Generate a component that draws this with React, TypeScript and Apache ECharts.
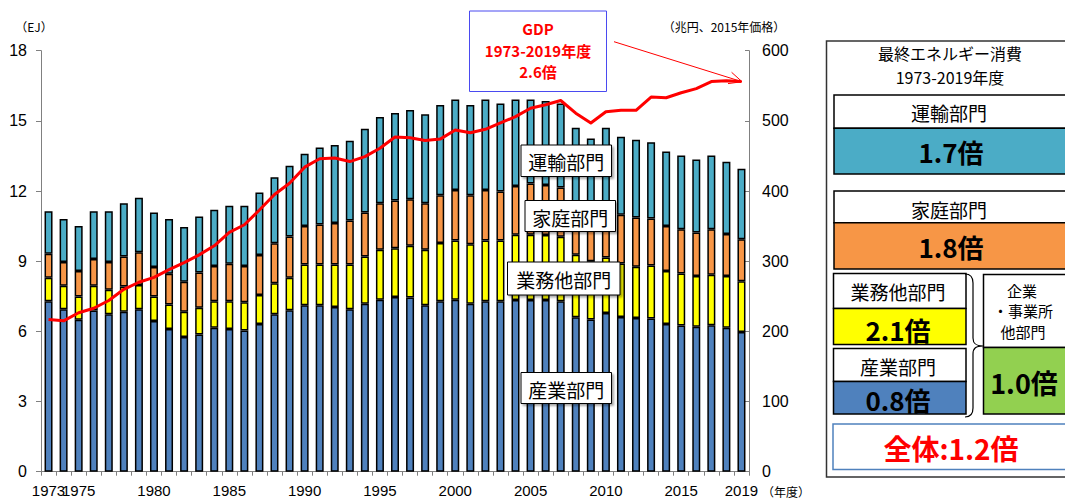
import React, { useEffect, useRef } from "react";
import * as echarts from "echarts";

// ---- data ----
const years: string[] = Array.from({ length: 47 }, (_, i) => String(1973 + i));
const xTickYears = ["1973", "1975", "1980", "1985", "1990", "1995", "2000", "2005", "2010", "2015", "2019"];

// EJ
const industry = [
  7.29, 6.95, 6.5, 6.89, 6.73, 6.84, 6.95, 6.44, 6.1, 5.76, 5.87, 6.15, 6.1, 6.04, 6.32, 6.73, 6.9,
  7.12, 7.12, 7.04, 6.95, 7.18, 7.35, 7.47, 7.45, 7.12, 7.29, 7.35, 7.18, 7.29, 7.29, 7.34, 7.34,
  7.34, 7.29, 6.6, 6.51, 6.78, 6.61, 6.57, 6.55, 6.32, 6.25, 6.2, 6.26, 6.15, 5.97,
];
const business = [
  1.0, 1.0, 0.99, 1.06, 1.05, 1.08, 1.03, 1.05, 1.05, 1.08, 1.14, 1.14, 1.19, 1.2, 1.23, 1.33, 1.39,
  1.74, 1.74, 1.82, 1.91, 2.02, 2.14, 2.08, 2.21, 2.37, 2.49, 2.54, 2.54, 2.6, 2.6, 2.79, 2.79,
  2.78, 2.76, 2.68, 2.49, 2.38, 2.29, 2.19, 2.27, 2.26, 2.22, 2.17, 2.16, 2.22, 2.17,
];
const household = [
  1.03, 1.02, 1.09, 1.14, 1.19, 1.28, 1.4, 1.26, 1.31, 1.28, 1.51, 1.51, 1.6, 1.56, 1.71, 1.71, 1.77,
  1.65, 1.71, 1.77, 1.88, 1.88, 1.99, 2.05, 1.99, 1.99, 2.04, 2.15, 2.1, 2.15, 2.09, 2.08, 2.19,
  2.14, 2.1, 2.02, 1.95, 2.09, 2.09, 2.11, 2.01, 1.92, 1.9, 1.86, 1.95, 1.79, 1.8,
];
const transport = [
  1.82, 1.83, 1.93, 2.05, 2.17, 2.28, 2.33, 2.33, 2.34, 2.34, 2.39, 2.4, 2.48, 2.57, 2.68, 2.82, 3.02,
  3.08, 3.29, 3.34, 3.41, 3.58, 3.69, 3.74, 3.81, 3.8, 3.86, 3.87, 3.86, 3.87, 3.76, 3.7, 3.59,
  3.59, 3.59, 3.41, 3.3, 3.46, 3.33, 3.32, 3.26, 3.19, 3.15, 3.12, 3.15, 3.09, 3.01,
];
// 兆円 (2015年価格)
const gdp = [
  217, 215, 226.6, 233, 244, 260, 270, 277, 288, 298, 309, 322, 341, 352, 373, 395, 411,
  434, 446, 447, 442, 449, 461, 477, 476, 472, 474, 487, 483, 488, 497, 506, 518,
  523, 529, 511, 497, 513, 515, 515, 534, 533, 540, 546, 556, 557, 556,
];

const C_IND = "#4f81bd";
const C_BUS = "#ffff00";
const C_HOU = "#f79646";
const C_TRA = "#4bacc6";
const C_GRN = "#92d050";
const JP = "'Noto Sans CJK JP', sans-serif";
const NUM = "'Liberation Sans', Arial, sans-serif";

echarts.graphic.registerShape(
  "brace",
  echarts.graphic.extendPath(
    "M 0 0 C 6 0 8 3 8 9 L 8 64 C 8 70 11 72 18 72 C 11 72 8 74 8 80 L 8 134 C 8 140 6 143 0 143",
    {}
  )
);

function txt(text: string, x: number, y: number, fontSize: number, opts: any = {}) {
  return {
    type: "text",
    z: 110,
    style: {
      text,
      x,
      y,
      align: "center",
      verticalAlign: "middle",
      fontSize,
      fontFamily: opts.fontFamily || JP,
      fontWeight: opts.fontWeight || "normal",
      fill: opts.fill || "#000",
    },
  };
}

function box(x: number, y: number, w: number, h: number, fill: string, stroke = "#000", lw = 1.5, extra: any = {}) {
  return {
    type: "rect",
    z: 105,
    shape: { x, y, width: w, height: h },
    style: { fill, stroke, lineWidth: lw, ...extra },
  };
}

function plotLabel(text: string, x: number, y: number, w: number, h: number) {
  return [
    box(x, y, w, h, "#fff", "#000", 1, {
      shadowColor: "rgba(0,0,0,0.35)",
      shadowBlur: 2,
      shadowOffsetX: 2,
      shadowOffsetY: 2,
    }),
    txt(text, x + w / 2, y + h / 2 + 1, 19),
  ];
}

export default function App() {
  const ref = useRef<HTMLDivElement>(null);
  useEffect(() => {
    if (!ref.current) return;
    const chart = echarts.init(ref.current, undefined, { renderer: "svg" });
    const barCommon = {
      type: "bar",
      stack: "total",
      barWidth: 8,
      z: 2,
    };
    const xLabelBase = {
      fontSize: 15,
      color: "#000",
      margin: 11,
      fontFamily: NUM,
      hideOverlap: false,
    };
    const option: any = {
      animation: false,
      backgroundColor: "#fff",
      grid: { left: 41, right: 316, top: 50.7, bottom: 27.3, containLabel: false },
      xAxis: [
        {
          type: "category",
          data: years,
          boundaryGap: true,
          axisLine: { lineStyle: { color: "#808080", width: 1 } },
          axisTick: { show: true, interval: 0, length: 4, lineStyle: { color: "#808080" } },
          axisLabel: {
            ...xLabelBase,
            interval: (i: number, v: string) => v !== xTickYears[0] && xTickYears.includes(v),
          },
        },
        {
          // separate axis only for the first year label, so that it is not dropped for overlapping "1975"
          type: "category",
          data: years,
          position: "bottom",
          boundaryGap: true,
          axisLine: { show: false },
          axisTick: { show: false },
          splitLine: { show: false },
          axisLabel: {
            ...xLabelBase,
            interval: (i: number, v: string) => v === xTickYears[0],
          },
        },
      ],
      yAxis: [
        {
          type: "value",
          min: 0,
          max: 18,
          interval: 3,
          position: "left",
          axisLine: { show: true, lineStyle: { color: "#808080" } },
          axisTick: { show: true, length: 5, lineStyle: { color: "#808080" } },
          splitLine: { show: false },
          axisLabel: { fontSize: 16, color: "#000", margin: 14, fontFamily: NUM },
        },
        {
          type: "value",
          min: 0,
          max: 600,
          interval: 100,
          position: "right",
          axisLine: { show: true, lineStyle: { color: "#808080" } },
          axisTick: { show: true, inside: true, length: 4, lineStyle: { color: "#808080" } },
          splitLine: { show: false },
          axisLabel: { fontSize: 16, color: "#000", margin: 13, fontFamily: NUM },
        },
      ],
      series: [
        { ...barCommon, name: "産業部門", data: industry, itemStyle: { color: C_IND, borderColor: "#000", borderWidth: 1.5 } },
        { ...barCommon, name: "業務他部門", data: business, itemStyle: { color: C_BUS, borderColor: "#000", borderWidth: 1.5 } },
        { ...barCommon, name: "家庭部門", data: household, itemStyle: { color: C_HOU, borderColor: "#000", borderWidth: 1.5 } },
        { ...barCommon, name: "運輸部門", data: transport, itemStyle: { color: C_TRA, borderColor: "#000", borderWidth: 1.5 } },
        {
          type: "line",
          name: "GDP",
          yAxisIndex: 1,
          data: gdp,
          symbol: "none",
          z: 5,
          lineStyle: { color: "#ff0000", width: 3, join: "round" },
        },
      ],
      graphic: [
        // axis unit labels
        txt("（EJ）", 34, 26, 12),
        txt("（兆円、2015年価格）", 724, 26, 12),
        txt("（年度）", 786, 491, 12),
        // GDP box
        box(469.5, 11, 137, 80.5, "#fff", "#4a4af0", 1),
        txt("GDP", 538, 28.5, 15, { fontWeight: "bold", fill: "#ff0000" }),
        txt("1973-2019年度", 538, 50, 15, { fontWeight: "bold", fill: "#ff0000" }),
        txt("2.6倍", 538, 71, 15, { fontWeight: "bold", fill: "#ff0000" }),
        {
          type: "line",
          z: 110,
          shape: { x1: 614, y1: 41.7, x2: 742, y2: 81.7 },
          style: { stroke: "#ff0000", lineWidth: 1 },
        },
        {
          type: "polyline",
          z: 110,
          shape: { points: [[731.6, 72.3], [742, 81.7], [728, 83.6]] },
          style: { stroke: "#ff0000", lineWidth: 1, fill: "none" },
        },
        // in-plot labels
        ...plotLabel("運輸部門", 521, 145, 90.5, 31.5),
        ...plotLabel("家庭部門", 525, 200.5, 90.5, 31),
        ...plotLabel("業務他部門", 507.5, 262, 112.5, 33),
        ...plotLabel("産業部門", 521, 372.5, 90.5, 31),
        // right panel
        box(826.5, 41, 260, 436, "#fff", "#333", 1.5),
        txt("最終エネルギー消費", 950, 53.3, 16),
        txt("1973-2019年度", 950, 76.7, 16),
        box(834, 95, 250, 33.3, "#fff"),
        box(834, 128.3, 250, 45.7, C_TRA),
        txt("運輸部門", 949, 112, 19),
        txt("1.7倍", 951, 151.5, 26, { fontWeight: "bold" }),
        box(834, 191, 250, 31.7, "#fff"),
        box(834, 222.7, 250, 46.3, C_HOU),
        txt("家庭部門", 949, 209, 19),
        txt("1.8倍", 951, 246.5, 26, { fontWeight: "bold" }),
        box(833.5, 273.5, 132.5, 35, "#fff"),
        box(833.5, 308.5, 132.5, 36, C_BUS),
        txt("業務他部門", 898, 291.5, 19),
        txt("2.1倍", 898, 329, 26, { fontWeight: "bold" }),
        box(833.5, 348.5, 132.5, 33, "#fff"),
        box(833.5, 381.5, 132.5, 32.5, C_IND),
        txt("産業部門", 898, 366.5, 19),
        txt("0.8倍", 898, 399.5, 26, { fontWeight: "bold" }),
        {
          type: "brace",
          z: 110,
          x: 965,
          y: 274,
          style: { stroke: "#000", lineWidth: 1.2, fill: "none" },
        },
        box(983.5, 274.5, 100, 73, "#fff"),
        box(983.5, 347.5, 100, 66.5, C_GRN),
        txt("企業", 1022, 290.5, 15),
        txt("・事業所", 1023, 310, 15),
        txt("他部門", 1023, 331.5, 15),
        txt("1.0倍", 1024, 382, 27, { fontWeight: "bold" }),
        box(833, 424, 250, 45.5, "#fff", "#4f81bd", 1.5),
        txt("全体:1.2倍", 951, 447.5, 28, { fontWeight: "bold", fill: "#ff0000" }),
      ],
    };
    chart.setOption(option);
    return () => chart.dispose();
  }, []);
  return (
    <div
      ref={ref}
      style={{ position: "absolute", left: 0, top: 0, width: 1065, height: 499, background: "#fff" }}
    />
  );
}
